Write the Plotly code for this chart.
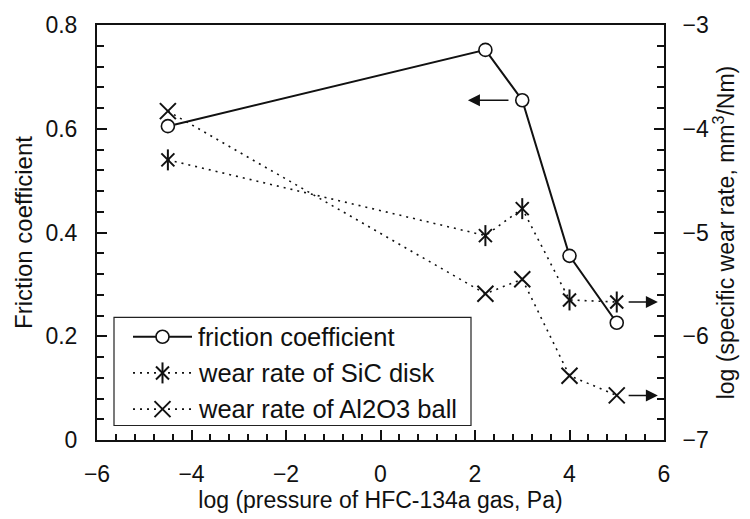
import plotly.graph_objects as go

# log10 of HFC-134a gas pressure (Pa)
log_pressure = [-4.5, 2.22, 3.0, 4.0, 5.0]
# friction coefficient (left axis)
friction = [0.605, 0.752, 0.655, 0.355, 0.226]
# log specific wear rate, mm^3/Nm (right axis)
wear_sic = [-4.30, -5.03, -4.77, -5.65, -5.67]
wear_al2o3 = [-3.83, -5.59, -5.45, -6.38, -6.57]

series_names = ["friction coefficient", "wear rate of SiC disk", "wear rate of Al2O3 ball"]

FONT = "Liberation Sans, Arial, sans-serif"
BLACK = "#111111"
W, H = 750, 519
L, R, T, B = 97, 664, 13, 443  # plot-area edges in pixels

DOT = "2px,5px"
circle_marker = dict(symbol="circle", size=13, color="white",
                     line=dict(color=BLACK, width=1.6))
x_marker = dict(symbol="x-thin-open", size=16, color=BLACK, line=dict(color=BLACK, width=2))
star_x_marker = dict(symbol="x-thin-open", size=13, color=BLACK, line=dict(color=BLACK, width=2))
star_bar_marker = dict(symbol="line-ns-open", size=15, color=BLACK, line=dict(color=BLACK, width=2))

fig = go.Figure()

# wear rate of Al2O3 ball: dotted line with x markers
fig.add_trace(go.Scatter(
    x=log_pressure, y=wear_al2o3, yaxis="y2", mode="lines+markers",
    line=dict(color=BLACK, width=1.6, dash=DOT), marker=x_marker, showlegend=False))

# wear rate of SiC disk: dotted line with six-spoke asterisks (x + vertical bar)
fig.add_trace(go.Scatter(
    x=log_pressure, y=wear_sic, yaxis="y2", mode="lines+markers",
    line=dict(color=BLACK, width=1.6, dash=DOT), marker=star_x_marker, showlegend=False))
fig.add_trace(go.Scatter(
    x=log_pressure, y=wear_sic, yaxis="y2", mode="markers",
    marker=star_bar_marker, showlegend=False))

# friction coefficient: solid line with open circles
fig.add_trace(go.Scatter(
    x=log_pressure, y=friction, mode="lines+markers",
    line=dict(color=BLACK, width=2), marker=circle_marker, showlegend=False))

# axis-indicator arrows pointing to the axis each curve is read on
arrow_style = dict(showarrow=True, arrowhead=2, arrowsize=1.6, arrowwidth=1.5,
                   arrowcolor=BLACK, text="", standoff=0, startstandoff=0)
fig.add_annotation(x=1.85, y=friction[2], ax=2.74, ay=friction[2],
                   xref="x", yref="y", axref="x", ayref="y", **arrow_style)
for yv in (wear_sic[-1], wear_al2o3[-1]):
    fig.add_annotation(x=5.87, y=yv, ax=5.22, ay=yv,
                       xref="x", yref="y2", axref="x", ayref="y2", **arrow_style)

# legend, drawn on a pixel-scaled overlay axis pair
box = dict(x0=114, x1=471, y0=316, y1=428)
rows = [336, 373.5, 411]
sample_x0, sample_x1, sample_mid, text_x = 133, 192, 162.5, 196

fig.add_shape(type="rect", xref="x3", yref="y3", line=dict(color="#222", width=1.2),
              fillcolor="rgba(0,0,0,0)", layer="below", **box)
dashes = ["solid", DOT, DOT]
for yy, dash, w, name in zip(rows, dashes, [2, 1.6, 1.6], series_names):
    fig.add_shape(type="line", xref="x3", yref="y3", x0=sample_x0, x1=sample_x1,
                  y0=yy, y1=yy, line=dict(color=BLACK, width=w, dash=dash), layer="below")
    fig.add_annotation(x=text_x, y=yy, xref="x3", yref="y3", text=name, showarrow=False,
                       xanchor="left", yanchor="middle",
                       font=dict(family=FONT, size=25.5, color=BLACK))

fig.add_trace(go.Scatter(x=[sample_mid], y=[rows[0]], xaxis="x3", yaxis="y3",
                         mode="markers", marker=circle_marker,
                         showlegend=False, hoverinfo="skip"))
fig.add_trace(go.Scatter(x=[sample_mid], y=[rows[1]], xaxis="x3", yaxis="y3",
                         mode="markers", marker=star_x_marker,
                         showlegend=False, hoverinfo="skip"))
fig.add_trace(go.Scatter(x=[sample_mid], y=[rows[1]], xaxis="x3", yaxis="y3",
                         mode="markers", marker=star_bar_marker,
                         showlegend=False, hoverinfo="skip"))
fig.add_trace(go.Scatter(x=[sample_mid], y=[rows[2]], xaxis="x3", yaxis="y3",
                         mode="markers", marker=x_marker,
                         showlegend=False, hoverinfo="skip"))

tick_font = dict(family=FONT, size=23, color=BLACK)
title_font = dict(family=FONT, size=24, color=BLACK)

fig.update_layout(
    width=W, height=H,
    margin=dict(l=L, r=W - R, t=T, b=H - B, pad=0),
    paper_bgcolor="white", plot_bgcolor="white",
    showlegend=False,
    xaxis=dict(
        range=[-6, 6], dtick=2, tick0=-6,
        showgrid=False, zeroline=False,
        showline=True, linecolor=BLACK, linewidth=2, mirror=True,
        ticks="inside", ticklen=10, tickwidth=1.5, tickcolor=BLACK,
        minor=dict(dtick=0.4, tick0=-6, ticks="inside", ticklen=6, tickwidth=1.5,
                   tickcolor=BLACK, showgrid=False),
        tickfont=tick_font, ticklabelstandoff=12,
        title=dict(text="log (pressure of HFC-134a gas, Pa)",
                   font=dict(family=FONT, size=23, color=BLACK), standoff=4),
    ),
    yaxis=dict(
        range=[0, 0.8], dtick=0.2, tick0=0,
        showgrid=False, zeroline=False,
        showline=True, linecolor=BLACK, linewidth=2,
        ticks="inside", ticklen=10, tickwidth=1.5, tickcolor=BLACK,
        minor=dict(dtick=0.04, tick0=0, ticks="inside", ticklen=7, tickwidth=1.5,
                   tickcolor=BLACK, showgrid=False),
        tickfont=tick_font, ticklabelstandoff=13,
        title=dict(text="Friction coefficient", font=title_font, standoff=6),
    ),
    yaxis2=dict(
        range=[-7, -3], dtick=1, tick0=-7, overlaying="y", side="right",
        showgrid=False, zeroline=False,
        showline=True, linecolor=BLACK, linewidth=2,
        ticks="inside", ticklen=10, tickwidth=1.5, tickcolor=BLACK,
        minor=dict(dtick=0.2, tick0=-7, ticks="inside", ticklen=7, tickwidth=1.5,
                   tickcolor=BLACK, showgrid=False),
        tickfont=tick_font, ticklabelstandoff=12,
        title=dict(text="log (specific wear rate, mm<sup>3</sup>/Nm)",
                   font=dict(family=FONT, size=23, color=BLACK), standoff=10),
    ),
    xaxis3=dict(overlaying="x", range=[L, R], visible=False, fixedrange=True),
    yaxis3=dict(overlaying="y", range=[B, T], visible=False, fixedrange=True),
)

fig.write_html("out.html")
